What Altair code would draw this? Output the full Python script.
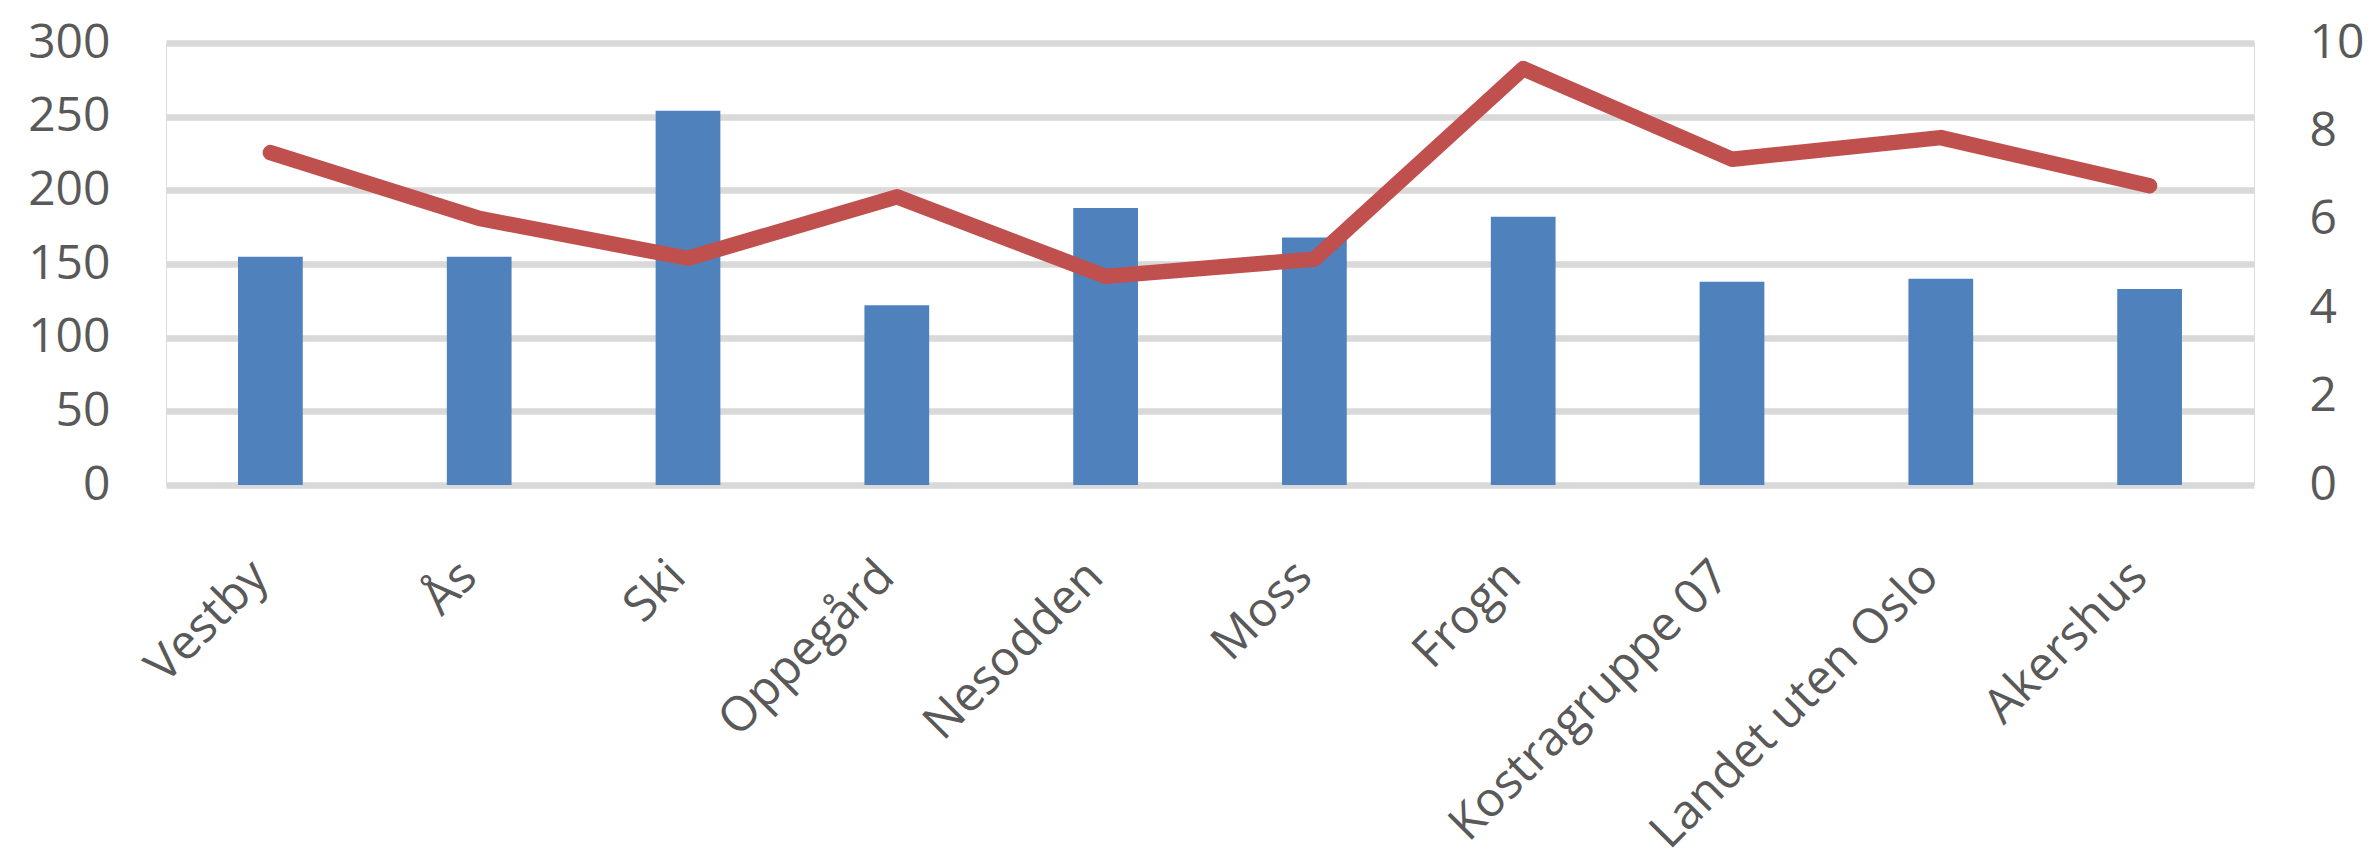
import altair as alt
import pandas as pd

categories = ["Vestby", "Ås", "Ski", "Oppegård", "Nesodden", "Moss", "Frogn",
              "Kostragruppe 07", "Landet uten Oslo", "Akershus"]
bar_values = [155, 155, 254, 122, 188, 168, 182, 138, 140, 133]
line_values = [7.52, 6.03, 5.13, 6.52, 4.72, 5.11, 9.42, 7.37, 7.86, 6.77]
left_ticks = [0, 50, 100, 150, 200, 250, 300]
right_ticks = [0, 2, 4, 6, 8, 10]

df = pd.DataFrame({"kategori": categories, "bar": bar_values, "line": line_values})

FONT = "Open Sans"
TXT = "#595959"

x = alt.X("kategori:N", sort=categories, title=None,
          scale=alt.Scale(paddingInner=0.69, paddingOuter=0.345),
          axis=alt.Axis(labelAngle=-45, labelAlign="right", labelBaseline="alphabetic",
                        labelPadding=94, ticks=False, tickSize=0, domain=False,
                        labelFontSize=48, labelColor=TXT, labelFont=FONT,
                        labelOverlap=False, labelLimit=0))

bars = alt.Chart(df).mark_bar(color="#4F81BD").encode(
    x=x,
    y=alt.Y("bar:Q", title=None,
            scale=alt.Scale(domain=[0, 300], nice=False, zero=True),
            axis=alt.Axis(values=left_ticks, orient="left", grid=True,
                          gridColor="#D9D9D9", gridWidth=6.5, domain=False,
                          ticks=False, tickSize=0, labelPadding=56,
                          labelFontSize=48, labelColor=TXT, labelFont=FONT)),
)

line = alt.Chart(df).mark_line(color="#C0504D", strokeWidth=15.5,
                               strokeCap="round", strokeJoin="round").encode(
    x=x,
    y=alt.Y("line:Q", title=None,
            scale=alt.Scale(domain=[0, 10], nice=False, zero=True),
            axis=alt.Axis(values=right_ticks, orient="right", grid=False,
                          domain=False, ticks=False, tickSize=0, labelPadding=55,
                          labelFontSize=48, labelColor=TXT, labelFont=FONT)),
)

chart = alt.layer(bars, line).resolve_scale(y="independent").properties(
    width=2088, height=442,
    autosize=alt.AutoSizeParams(type="none"),
    padding={"left": 158, "top": 35, "right": 117, "bottom": 378},
).configure_view(stroke=None).configure(font=FONT, background="white")

chart.save("out.html", embed_options={"renderer": "svg", "actions": False})
